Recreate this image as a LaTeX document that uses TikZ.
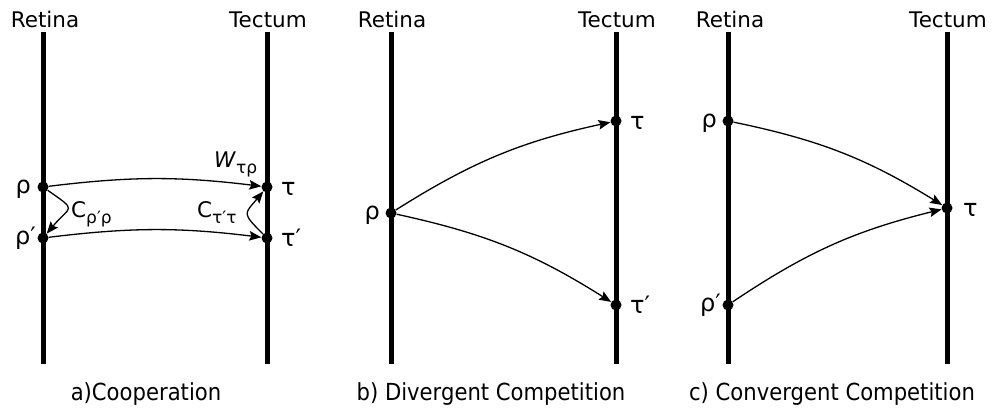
\documentclass[tikz,border=0pt]{standalone}
\usepackage{fontspec}
\setmainfont{DejaVu Sans}
\newfontfamily\capfont[FakeStretch=0.9]{DejaVu Sans}
\usetikzlibrary{arrows.meta}
\begin{document}
\begin{tikzpicture}[x=1pt,y=1pt,
  axis/.style={line width=5pt},
  dot/.style={circle,fill=black,inner sep=0pt,minimum size=11pt},
  conn/.style={line width=1.3pt,-{Stealth[length=12pt,width=9.5pt,inset=2pt]}},
  lab/.style={font=\fontsize{21.5}{24}\selectfont, inner sep=0pt},
  gr/.style={font=\fontsize{24}{26}\selectfont, inner sep=0pt},
  sub/.style={font=\fontsize{17}{19}\selectfont},
  captext/.style={font=\capfont\fontsize{23.5}{26}\selectfont, inner sep=0pt}]
\useasboundingbox (0,-408) rectangle (993,0);
% ---------- panel a
\node[lab,anchor=base] (aRet) at (45,-27) {Retina};
\node[lab,anchor=base] (aTec) at (268,-27) {Tectum};
\coordinate (aR1) at (43,-32); \coordinate (aR2) at (43,-364);
\coordinate (aT1) at (267,-32); \coordinate (aT2) at (267,-364);
\draw[axis] (aR1) -- (aR2);
\draw[axis] (aT1) -- (aT2);
\node[dot] (arho) at (43,-187) {};
\node[dot] (arhop) at (43,-238) {};
\node[dot] (atau) at (267,-187) {};
\node[dot] (ataup) at (267,-238) {};
\node[gr,anchor=base east] (larho) at (31,-193) {ρ};
\node[gr,anchor=base east] (larhop) at (36,-244) {ρ′};
\node[gr,anchor=base west] (latau) at (281,-195) {τ};
\node[gr,anchor=base west] (lataup) at (281,-246) {τ′};
\draw[conn] (arho) to[bend left=7] (atau);
\draw[conn] (arhop) to[bend left=7] (ataup);
\draw[conn] (arho) to[out=-35,in=50,looseness=2.2] (arhop);
\draw[conn] (ataup) to[out=135,in=-130,looseness=1.8] (atau);
\node[lab,anchor=base west] (lC1) at (71,-217) {C\raisebox{-0.3em}{\fontsize{17}{19}\selectfont ρ′ρ}};
\node[lab,anchor=base west] (lC2) at (197,-217) {C\raisebox{-0.3em}{\fontsize{17}{19}\selectfont τ′τ}};
\node[lab,anchor=base west] (lW) at (214,-167) {\textit{W}\raisebox{-0.3em}{\fontsize{17}{19}\selectfont τρ}};
\node[captext,anchor=base] (capa) at (146,-400) {a)Cooperation};
% ---------- panel b
\node[lab,anchor=base] (bRet) at (392,-27) {Retina};
\node[lab,anchor=base] (bTec) at (617,-27) {Tectum};
\coordinate (bR1) at (391,-32); \coordinate (bR2) at (391,-364);
\coordinate (bT1) at (616,-32); \coordinate (bT2) at (616,-364);
\draw[axis] (bR1) -- (bR2);
\draw[axis] (bT1) -- (bT2);
\node[dot] (brho) at (391,-213) {};
\node[dot] (btau) at (616,-121) {};
\node[dot] (btaup) at (616,-305) {};
\node[gr,anchor=base east] (lbrho) at (380,-219) {ρ};
\node[gr,anchor=base west] (lbtau) at (630,-129) {τ};
\node[gr,anchor=base west] (lbtaup) at (630,-313) {τ′};
\draw[conn] (brho) to[bend left=10] (btau);
\draw[conn] (brho) to[bend left=10] (btaup);
\node[captext,anchor=base] (capb) at (491,-400) {b) Divergent Competition};
% ---------- panel c
\node[lab,anchor=base] (cRet) at (730,-27) {Retina};
\node[lab,anchor=base] (cTec) at (948,-27) {Tectum};
\coordinate (cR1) at (728,-32); \coordinate (cR2) at (728,-364);
\coordinate (cT1) at (947,-32); \coordinate (cT2) at (947,-364);
\draw[axis] (cR1) -- (cR2);
\draw[axis] (cT1) -- (cT2);
\node[dot] (crho) at (728,-121) {};
\node[dot] (crhop) at (728,-305) {};
\node[dot] (ctau) at (947,-208) {};
\node[gr,anchor=base east] (lcrho) at (717,-127) {ρ};
\node[gr,anchor=base east] (lcrhop) at (721,-311) {ρ′};
\node[gr,anchor=base west] (lctau) at (963,-216) {τ};
\draw[conn] (crho) to[bend left=10] (ctau);
\draw[conn] (crhop) to[bend left=10] (ctau);
\node[captext,anchor=base] (capc) at (832,-400) {c) Convergent Competition};
\end{tikzpicture}
\end{document}
